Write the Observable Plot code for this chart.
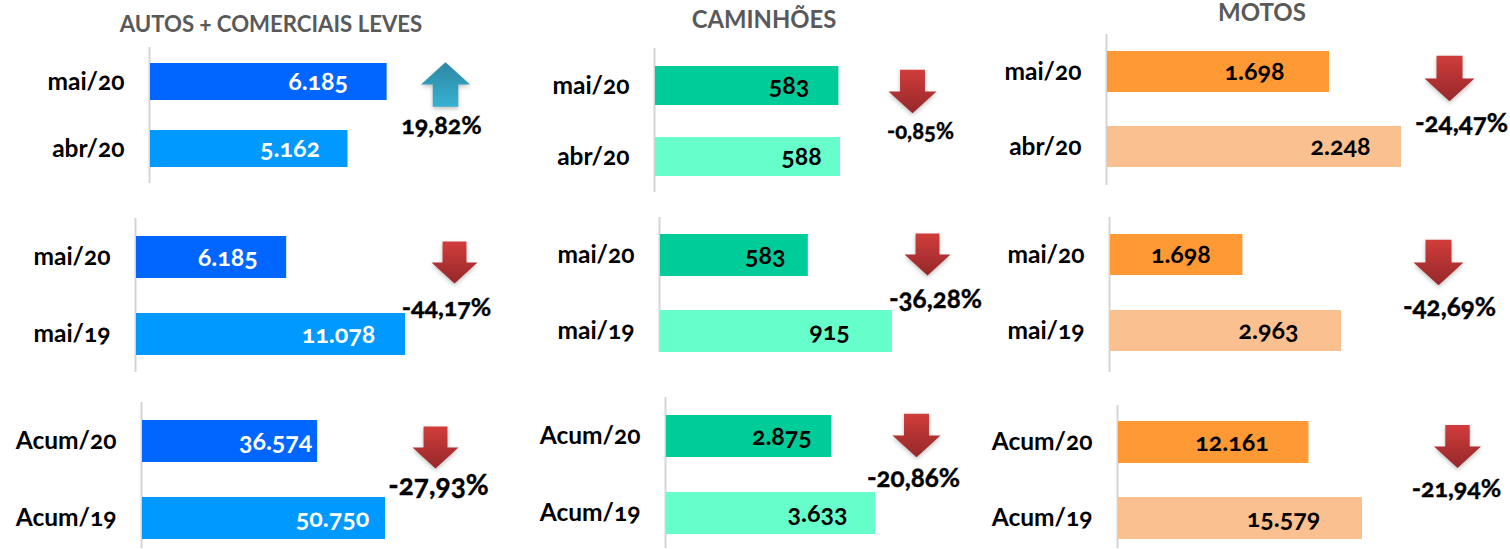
<!DOCTYPE html>
<html><head><meta charset="utf-8">
<script src="https://cdn.jsdelivr.net/npm/d3@7"></script>
<script src="https://cdn.jsdelivr.net/npm/@observablehq/plot@0.6"></script>
<style>
html,body{margin:0;padding:0;background:#fff;width:1510px;height:549px;overflow:hidden;position:relative}
svg{position:absolute}
*{font-feature-settings:"onum" 1 !important;font-variant-numeric:oldstyle-nums !important;font-kerning:normal}
svg text{font-family:"Lato" !important}
.ttl{position:absolute;font-family:Lato,sans-serif;font-weight:700;line-height:1;color:#595959;transform:translate(-50%,-50%);white-space:nowrap}
</style></head><body>
<script>
const groupTitles = ["AUTOS + COMERCIAIS LEVES", "CAMINHÕES", "MOTOS"];
const periods = [["mai/20","abr/20"],["mai/20","mai/19"],["Acum/20","Acum/19"]];
const autos = [[6185,5162],[6185,11078],[36574,50750]];
const caminhoes = [[583,588],[583,915],[2875,3633]];
const motos = [[1698,2248],[1698,2963],[12161,15579]];
const autosChange = [19.82,-44.17,-27.93];
const caminhoesChange = [-0.85,-36.28,-20.86];
const motosChange = [-24.47,-42.69,-21.94];

// ---- layout & style (pixels), separate from the data ----
const titlePos = [[271,24,22.2],[764,20,23.8],[1262,12,24]];
const palette = [["#0066ff","#0099ff","#fff"],["#00cc99","#66ffcc","#000"],["#ff9933","#fac090","#000"]];
const colLeft = [0,495,985];
// axisX, top, bottom, bar1Top, bar1Bottom, bar2Top, bar2Bottom, pixel end of bar 2
const panels = [
 [[149,47,183,63,101,131,168,347.5],[135,218,372,236,278,313,355,405],[141,402,548,420,462,497,539,385]],
 [[654,48,192,66,105,137,176,840],[659,217,352,234,276,310,352,892],[665,397,548,415,457,492,534,875]],
 [[1106,34,185,51,92,126,167,1401],[1109,217,372,234,275,310,351,1341],[1117,405,548,421,463,497,539,1362]]
];
// label offset from bar end
const labelDx = [[[-69,-58],[-59,-67],[-42,-53]],[[-50,-39],[-43,-63],[-50,-58]],[[-75,-61],[-62,-73],[-77,-79]]];
// arrow centre x,y, radius ; pct centre x,y, font size
const arrowPos = [
 [[445,84,24.5],[454,262,23],[435,447,23]],
 [[912,91,24],[927,254,23],[916,435,24]],
 [[1449,78,25],[1438,262,25],[1457,446,23.5]]
];
const pctPos = [
 [[441,125,25],[446,307,25],[438,486,28]],
 [[920,131,22],[935,299,26],[913,478,26]],
 [[1461,123,26],[1449,307,26],[1456,488,25]]
];
const labelLeftPad = 26;

const ptBR = d3.formatLocale({decimal:",",thousands:".",grouping:[3],currency:["",""],minus:"-"});
const fmtVal = ptBR.format(",d");
const fmtPct = v => ptBR.format(".2f")(v) + "%";

const arrowSym = up => ({draw(ctx, size){
  const r = Math.sqrt(size/Math.PI), s = up ? -1 : 1, h = .91*r, w = .52*r;
  ctx.moveTo(-w,-s*h); ctx.lineTo(w,-s*h); ctx.lineTo(w,0); ctx.lineTo(r,0);
  ctx.lineTo(0,s*h); ctx.lineTo(-r,0); ctx.lineTo(-w,0); ctx.closePath();
}});

const series = [autos,caminhoes,motos], changes = [autosChange,caminhoesChange,motosChange];

groupTitles.forEach((t,i)=>{
  const d=document.createElement("div"); d.className="ttl"; d.textContent=t;
  d.style.left=titlePos[i][0]+"px"; d.style.top=titlePos[i][1]+"px"; d.style.fontSize=titlePos[i][2]+"px"; document.body.append(d);
});

series.forEach((rows,c)=>rows.forEach((vals,r)=>{
  const [ax,top,bot,b1t,b1b,b2t,b2b,end] = panels[c][r];
  const data = vals.map((value,k)=>({period:periods[r][k],value,dx:labelDx[c][r][k]}));
  const h = ((b1b-b1t)+(b2b-b2t))/2, step=(b2b-b1t)-h;
  const left = colLeft[c], ml = ax+1-left;
  const change = changes[c][r], up = change>0;
  const [ax0,ay0,ar] = arrowPos[c][r], [px,py,pf] = pctPos[c][r];
  const id = `g${c}${r}`;
  const scaleMax = vals[1]; // bar 2 pixel end anchors the scale
  const defs = () => {
    const ns="http://www.w3.org/2000/svg", g=document.createElementNS(ns,"linearGradient");
    g.setAttribute("id",id); g.setAttribute("x1","0"); g.setAttribute("x2","0"); g.setAttribute("y1","0"); g.setAttribute("y2","1");
    (up?[["0","#2c86a3"],["1","#36b2d2"]]:[["0","#d13d3b"],["1","#95272a"]]).forEach(([o,col])=>{
      const s=document.createElementNS(ns,"stop"); s.setAttribute("offset",o); s.setAttribute("stop-color",col); g.append(s);
    });
    const de=document.createElementNS(ns,"defs"); de.append(g); return de;
  };
  const barTextMarks = data.map(d=>Plot.text([d],{x:"value",y:"period",text:e=>fmtVal(e.value),dx:d.dx,textAnchor:"middle",
      fill:palette[c][2],fontSize:25,fontWeight:700}));
  const svg = Plot.plot({
    width:525, height:bot-top,
    marginLeft:ml, marginTop:0, marginBottom:0, marginRight:0,
    style:{background:"transparent",overflow:"visible",fontFamily:"Lato,sans-serif"},
    x:{axis:null,domain:[0,scaleMax],range:[ml,end-left]},
    y:{type:"band",domain:periods[r],range:[b1t-top,b2b-top],paddingInner:(step-h)/step,paddingOuter:0,align:0},
    color:{domain:periods[r],range:palette[c].slice(0,2)},
    marks:[
      defs,
      Plot.ruleX([0],{x:()=>0,dx:-1,stroke:"#d4d4d4",strokeWidth:2}),
      Plot.barX(data,{x:"value",y:"period",fill:"period"}),
      Plot.axisY({anchor:"left",tickSize:0,tickPadding:labelLeftPad,label:null,fontSize:24.5,fontWeight:700,fill:"#000"}),
      ...barTextMarks,
      Plot.dot([change],{frameAnchor:"top-left",dx:ax0-ax-1,dy:ay0-top,r:ar,symbol:arrowSym(up),fill:`url(#${id})`,
        imageFilter:"drop-shadow(0 2px 2px rgba(0,0,0,.25))"}),
      Plot.text([change],{frameAnchor:"top-left",lineAnchor:"middle",dx:px-ax-1,dy:py-top,text:d=>fmtPct(d),textAnchor:"middle",fontSize:pf,fontWeight:700,fill:"#000",stroke:"#000",strokeWidth:.4})
    ]
  });
  svg.style.left=left+"px"; svg.style.top=top+"px";
  document.body.append(svg);
}));
</script>
</body></html>
